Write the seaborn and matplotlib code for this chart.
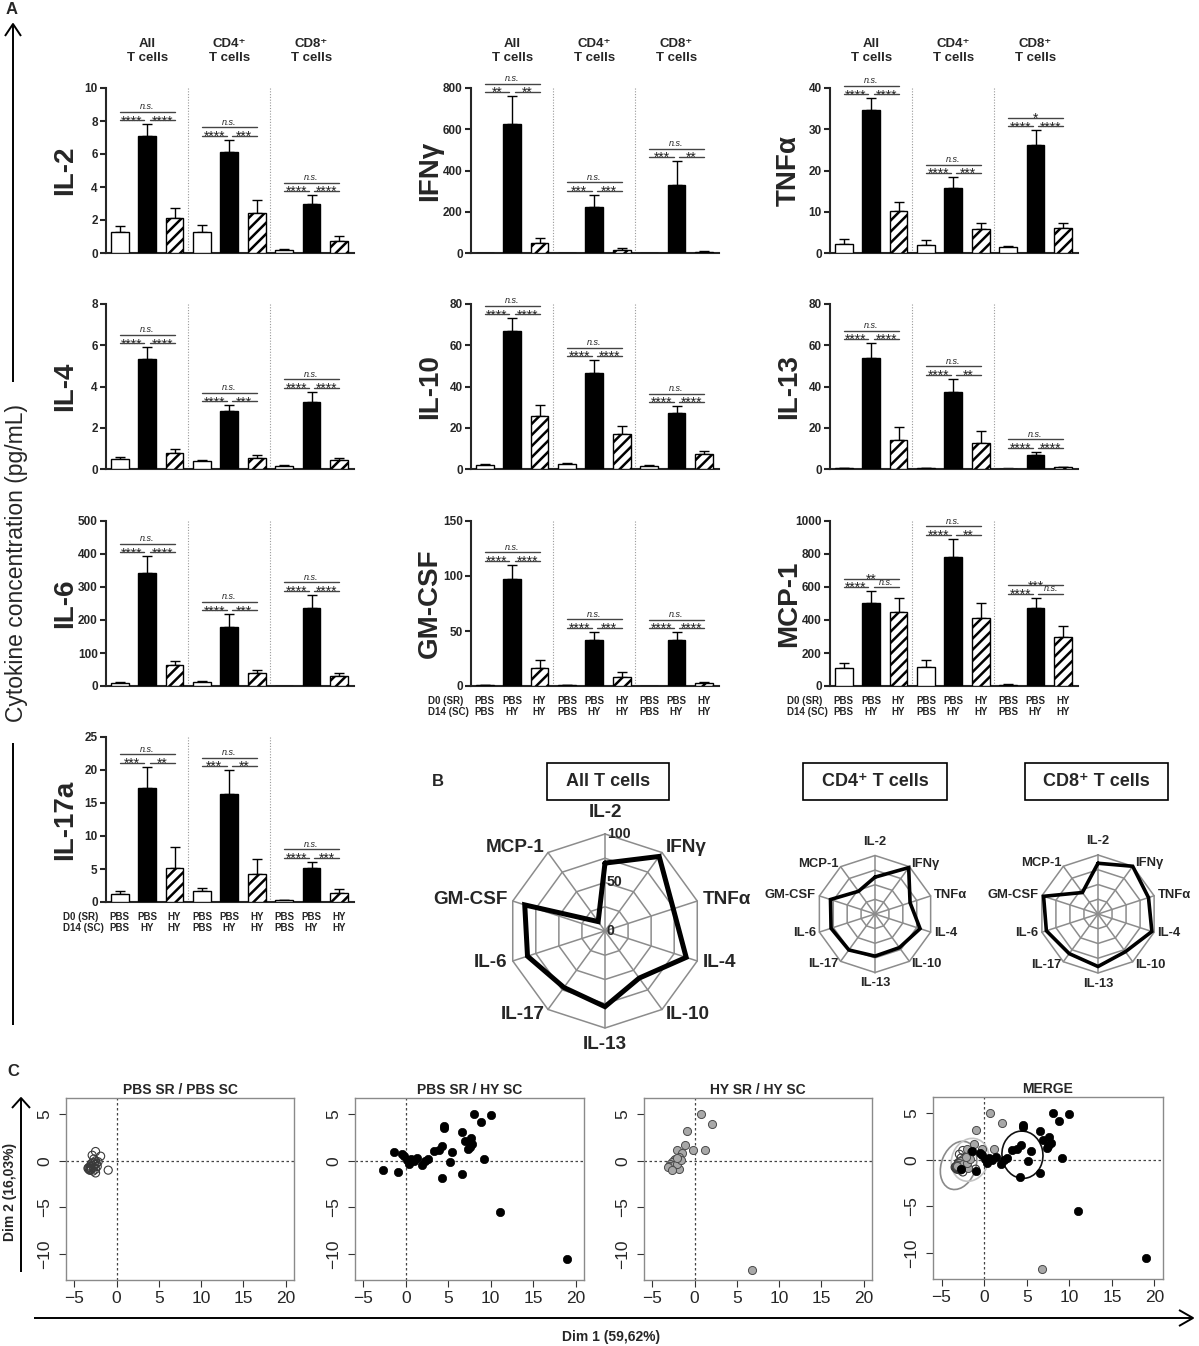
import numpy as np
import pandas as pd
import seaborn as sns
import matplotlib.pyplot as plt
from matplotlib.patches import Ellipse, Rectangle
from matplotlib import font_manager

# ---------------- data ----------------
bar_ids = ['all_pbs', 'all_pbshy', 'all_hy', 'cd4_pbs', 'cd4_pbshy', 'cd4_hy', 'cd8_pbs', 'cd8_pbshy', 'cd8_hy']
group_titles = ['All\nT cells', 'CD4\u207a\nT cells', 'CD8\u207a\nT cells']
bar_labels = ['PBS\nPBS', 'PBS\nHY', 'HY\nHY'] * 3

il2_mean = [1.3, 7.1, 2.15, 1.3, 6.15, 2.4, 0.2, 3.0, 0.75]
il2_err = [0.35, 0.7, 0.6, 0.4, 0.7, 0.8, 0.05, 0.5, 0.3]
il2_sig = [('****', '****', 'n.s.'), ('****', '***', 'n.s.'), ('****', '****', 'n.s.')]

ifng_mean = [0, 625, 47, 0, 225, 15, 0, 330, 5]
ifng_err = [0, 135, 25, 0, 58, 8, 0, 115, 3]
ifng_sig = [('**', '**', 'n.s.'), ('***', '***', 'n.s.'), ('***', '**', 'n.s.')]

tnfa_mean = [2.2, 34.6, 10.1, 2.0, 15.8, 5.7, 1.4, 26.3, 6.0]
tnfa_err = [1.1, 2.9, 2.2, 1.1, 2.6, 1.5, 0.4, 3.4, 1.2]
tnfa_sig = [('****', '****', 'n.s.'), ('****', '***', 'n.s.'), ('****', '****', '*')]

il4_mean = [0.5, 5.35, 0.8, 0.38, 2.8, 0.55, 0.15, 3.25, 0.45]
il4_err = [0.1, 0.55, 0.15, 0.08, 0.28, 0.12, 0.05, 0.5, 0.1]
il4_sig = [('****', '****', 'n.s.'), ('****', '***', 'n.s.'), ('****', '****', 'n.s.')]

il10_mean = [2.0, 67, 25.5, 2.3, 46.5, 16.8, 1.3, 27.2, 7.1]
il10_err = [0.5, 6, 5.5, 0.8, 6.3, 4, 0.5, 3.3, 1.8]
il10_sig = [('****', '****', 'n.s.'), ('****', '****', 'n.s.'), ('****', '****', 'n.s.')]

il13_mean = [0.4, 54, 14.2, 0.5, 37.3, 12.5, 0.2, 7.0, 0.8]
il13_err = [0.1, 7, 6.2, 0.2, 6.5, 5.7, 0.05, 1.3, 0.4]
il13_sig = [('****', '****', 'n.s.'), ('****', '**', 'n.s.'), ('****', '****', 'n.s.')]

il6_mean = [10, 343, 63, 12, 180, 40, 0, 236, 31]
il6_err = [3, 50, 12, 3, 37, 10, 0, 40, 8]
il6_sig = [('****', '****', 'n.s.'), ('****', '***', 'n.s.'), ('****', '****', 'n.s.')]

gmcsf_mean = [1, 97, 16.5, 0.5, 41.5, 8.5, 0.3, 41.5, 2.5]
gmcsf_err = [0.3, 13, 7, 0.2, 8, 4, 0.1, 7.5, 1]
gmcsf_sig = [('****', '****', 'n.s.'), ('****', '***', 'n.s.'), ('****', '****', 'n.s.')]

mcp1_mean = [108, 503, 451, 118, 782, 411, 7, 472, 297]
mcp1_err = [30, 72, 85, 42, 110, 93, 3, 62, 67]
mcp1_sig = [('****', 'n.s.', '**'), ('****', '**', 'n.s.'), ('****', 'n.s.', '***')]

il17_mean = [1.2, 17.3, 5.1, 1.6, 16.4, 4.2, 0.25, 5.1, 1.3]
il17_err = [0.5, 3.2, 3.2, 0.5, 3.6, 2.3, 0.1, 1.0, 0.6]
il17_sig = [('***', '**', 'n.s.'), ('***', '**', 'n.s.'), ('****', '***', 'n.s.')]

# radar (% of max), clockwise from top
radar_axes_labels = ['IL-2', 'IFN\u03b3', 'TNF\u03b1', 'IL-4', 'IL-10', 'IL-13', 'IL-17', 'IL-6', 'GM-CSF', 'MCP-1']
radar_all = [70, 95, 74, 88, 60, 78, 72, 84, 87, 12]
radar_cd4 = [63, 98, 63, 81, 71, 72, 76, 79, 80, 48]
radar_cd8 = [86, 100, 90, 96, 79, 89, 83, 92, 97, 45]
radar_titles = ['All T cells', 'CD4\u207a T cells', 'CD8\u207a T cells']

# PCA individuals
pbs_pbs_x = [-3.4, -3.3, -3.2, -3.1, -3.0, -2.9, -2.8, -2.7, -2.6, -2.5, -3.0, -2.8, -2.5, -2.9, -2.5, -1.9,
             -2.2, -1.0, -2.5, -2.3, -3.3, -2.7, -2.4, -3.1]
pbs_pbs_y = [-0.8, -0.7, -1.0, -0.6, -0.9, -0.5, -1.1, -0.7, -0.4, -0.9, -0.3, -0.2, 0.0, 0.6, 1.0, 0.5,
             -0.1, -1.0, -1.3, -0.6, -0.9, 0.2, -0.3, -1.0]
pbs_hy_x = [-2.7, -1.45, -0.9, -0.45, -0.2, 0.1, 0.35, 0.55, 0.9, 1.35, 1.95, 2.3, 2.65, 3.3, 3.85, 4.3, 4.2,
            4.55, 4.55, 5.15, 5.45, 6.6, 6.6, 6.95, 7.35, 7.5, 7.65, 7.85, 8.05, 8.8, 9.2, 10.0, 11.05, 19.0]
pbs_hy_y = [-0.95, 1.0, -1.2, 0.75, 0.5, 0.1, -0.3, 0.2, 0.0, 0.27, -0.4, -0.05, 0.25, 1.1, 1.2, 1.55, -1.85,
            3.7, 3.5, -0.15, 1.0, 3.15, -1.4, 2.1, 1.25, 1.5, 2.45, 1.85, 5.05, 4.2, 0.25, 4.95, -5.5, -10.5]
hy_hy_x = [0.7, 2.1, -0.9, -1.15, -0.2, 1.2, -2.05, -1.5, -1.8, -2.3, -2.5, -2.7, -2.95, -3.05, -2.8, -2.3,
           -1.9, -2.5, -2.05, -1.6, -3.2, -2.7, -2.15, 6.8]
hy_hy_y = [5.07, 3.96, 3.2, 1.7, 1.2, 1.15, 1.2, 0.8, 0.4, 0.25, 0.05, -0.1, -0.3, -0.55, -0.8, -0.7,
           -0.9, -0.45, -0.3, 0.05, -0.65, -1.0, 0.35, -11.7]
scatter_titles = ['PBS SR / PBS SC', 'PBS SR / HY SC', 'HY SR / HY SC', 'MERGE']

ell_cx = [-3.0, -1.65, 4.5]
ell_cy = [-0.6, 0.0, 0.55]
ell_w = [4.0, 4.2, 4.8]
ell_h = [5.4, 4.8, 5.1]
ell_angle = [-25, -35, 15]
ell_color = ['#8a8a8a', '#c4c4c4', '#111111']

# ---------------- style ----------------
sns.set_style('ticks')
plt.rcParams['font.family'] = ['Liberation Sans', 'DejaVu Sans']
plt.rcParams['hatch.linewidth'] = 1.8
plt.rcParams['axes.facecolor'] = 'none'

names = {f.name for f in font_manager.fontManager.ttflist}
NARROW = 'Liberation Sans Narrow' if 'Liberation Sans Narrow' in names else 'Liberation Sans'
nscale = 1.0 if NARROW == 'Liberation Sans Narrow' else 0.85

W, H = 1199, 1346
fig = plt.figure(figsize=(W / 100, H / 100), dpi=100)


def px_axes(x0, y0, x1, y1):
    return fig.add_axes([x0 / W, 1 - y1 / H, (x1 - x0) / W, (y1 - y0) / H])


def bar_panel(ax, name, mean, err, sig, ymax, step, header, xlab):
    df = pd.DataFrame({'bar': bar_ids, 'value': mean})
    sns.barplot(data=df, x='bar', y='value', order=bar_ids, color='black', saturation=1,
                width=0.65, edgecolor='black', linewidth=1.0, errorbar=None, ax=ax, zorder=3)
    for i, p in enumerate(ax.patches):
        k = i % 3
        if k == 0:
            p.set_facecolor('white')
        elif k == 2:
            p.set_facecolor('white')
            p.set_hatch('///')
    ax.errorbar(range(9), mean, yerr=[np.zeros(9), err], fmt='none', ecolor='black',
                elinewidth=1, capsize=3.5, capthick=1, zorder=2)
    ax.vlines([2.5, 5.5], 0, ymax, colors='#9a9a9a', linestyles=(0, (1, 1.5)), lw=0.8)
    ax.set_xlim(-0.5, 8.55)
    ax.set_ylim(0, ymax)
    ax.set_yticks(np.arange(0, ymax + step / 2, step))
    ax.set_yticklabels([f'{int(v)}' for v in np.arange(0, ymax + step / 2, step)],
                       fontsize=8.5, fontweight='bold')
    ax.set_xticks([])
    ax.set_xlabel('')
    ax.set_ylabel('')
    sns.despine(ax=ax)
    for s in ['left', 'bottom']:
        ax.spines[s].set_linewidth(1.5)
    ax.tick_params(axis='y', length=4, width=1.5, pad=2)

    u = ymax / 165.0
    tops = np.array(mean) + np.array(err)
    for g in range(3):
        p0, p1, p2 = 3 * g, 3 * g + 1, 3 * g + 2
        base = tops[p0:p2 + 1].max() + 4 * u
        hi = base + 8.5 * u
        segs = [((p0, p1 - 0.1), base, sig[g][0]), ((p1 + 0.1, p2), base, sig[g][1]),
                ((p0, p2), hi, sig[g][2])]
        for (xa, xb), yy, lab in segs:
            ax.plot([xa, xb], [yy, yy], color='#444', lw=1.0, clip_on=False, zorder=4)
            if lab == 'n.s.':
                ax.text((xa + xb) / 2, yy + 0.5 * u, lab, ha='center', va='bottom',
                        fontsize=6.5, style='italic', color='#222', clip_on=False)
            else:
                ax.text((xa + xb) / 2, yy - 5 * u, lab, ha='center', va='baseline',
                        fontsize=10, color='#222', clip_on=False)

    ax.annotate(name, xy=(0, 0.5), xycoords='axes fraction', xytext=(-41, 0),
                textcoords='offset pixels', rotation=90, ha='center', va='center',
                fontsize=20, fontweight='bold', annotation_clip=False)
    if header:
        for g in range(3):
            ax.annotate(group_titles[g], xy=(3 * g + 1, 1), xycoords=('data', 'axes fraction'),
                        xytext=(0, 37), textcoords='offset pixels', ha='center', va='center',
                        fontsize=9.5, fontweight='bold', linespacing=1.3, annotation_clip=False)
    if xlab:
        for i in range(9):
            ax.annotate(bar_labels[i], xy=(i, 0), xycoords=('data', 'axes fraction'),
                        xytext=(0, -10), textcoords='offset pixels', ha='center', va='top',
                        fontsize=7, fontweight='bold', linespacing=1.15, annotation_clip=False)
        ax.annotate('D0 (SR)\nD14 (SC)', xy=(0, 0), xycoords='axes fraction', xytext=(-43, -10),
                    textcoords='offset pixels', ha='left', va='top', fontsize=7,
                    fontweight='bold', linespacing=1.15, annotation_clip=False)


col_left = [106, 471, 830]
row_top = [88, 304, 521, 737]
panels = [
    ('IL-2', il2_mean, il2_err, il2_sig, 10, 2, 0, 0),
    ('IFN\u03b3', ifng_mean, ifng_err, ifng_sig, 800, 200, 1, 0),
    ('TNF\u03b1', tnfa_mean, tnfa_err, tnfa_sig, 40, 10, 2, 0),
    ('IL-4', il4_mean, il4_err, il4_sig, 8, 2, 0, 1),
    ('IL-10', il10_mean, il10_err, il10_sig, 80, 20, 1, 1),
    ('IL-13', il13_mean, il13_err, il13_sig, 80, 20, 2, 1),
    ('IL-6', il6_mean, il6_err, il6_sig, 500, 100, 0, 2),
    ('GM-CSF', gmcsf_mean, gmcsf_err, gmcsf_sig, 150, 50, 1, 2),
    ('MCP-1', mcp1_mean, mcp1_err, mcp1_sig, 1000, 200, 2, 2),
    ('IL-17a', il17_mean, il17_err, il17_sig, 25, 5, 0, 3),
]
for name, m, e, s, ymax, step, c, r in panels:
    ax = px_axes(col_left[c], row_top[r], col_left[c] + 248, row_top[r] + 165)
    bar_panel(ax, name, m, e, s, ymax, step, header=(r == 0),
              xlab=(r == 3 or (r == 2 and c > 0)))


# ---------------- radar charts ----------------
def radar(cx, cy, rpx, vals, fs, lw, scale_labels):
    half_w, half_h = 160 if scale_labels else 96, 140 if scale_labels else 86
    ax = px_axes(cx - half_w, cy - half_h, cx + half_w, cy + half_h)
    k = 100.0 / rpx
    ax.set_xlim(-half_w * k, half_w * k)
    ax.set_ylim(-half_h * k, half_h * k)
    ax.axis('off')
    n = len(vals)
    ang = np.pi / 2 - np.arange(n) * 2 * np.pi / n
    for ring in [25, 50, 75, 100]:
        xs = ring * np.cos(ang)
        ys = ring * np.sin(ang)
        ax.plot(np.r_[xs, xs[0]], np.r_[ys, ys[0]], color='#8c8c8c', lw=1.1)
    for a in ang:
        ax.plot([0, 100 * np.cos(a)], [0, 100 * np.sin(a)], color='#8c8c8c', lw=1.1)
    v = np.array(vals, dtype=float)
    px_, py_ = v * np.cos(ang), v * np.sin(ang)
    ax.plot(np.r_[px_, px_[0]], np.r_[py_, py_[0]], color='black', lw=lw,
            solid_joinstyle='miter', zorder=5)
    for lab, a in zip(radar_axes_labels, ang):
        c, s = np.cos(a), np.sin(a)
        if s > 0.95:
            x, y, ha, va = 0, 113, 'center', 'bottom'
        elif s < -0.95:
            x, y, ha, va = 0, -108, 'center', 'top'
        else:
            x, y = 106 * c, 106 * s
            ha = 'left' if c > 0 else 'right'
            va = 'center'
        ax.text(x, y, lab, ha=ha, va=va, fontsize=fs * nscale, fontweight='bold',
                family=[NARROW, 'DejaVu Sans'])
    if scale_labels:
        for val in [0, 50, 100]:
            ax.text(2, val, str(val), ha='left', va='center', fontsize=12 * nscale,
                    fontweight='bold', family=[NARROW, 'DejaVu Sans'], zorder=6)


radar(605, 931, 97, radar_all, 16, 3.6, True)
radar(875, 914, 58.5, radar_cd4, 11, 2.6, False)
radar(1098, 914, 59, radar_cd8, 11, 2.6, False)


# ---------------- PCA scatter ----------------
def pca_axes(box, title):
    ax = px_axes(*box)
    ax.set_xlim(-6.0, 21.0)
    ax.set_ylim(-12.8, 6.75)
    ax.axhline(0, ls=(0, (2, 2)), color='#444', lw=0.9, zorder=1)
    ax.axvline(0, ls=(0, (2, 2)), color='#444', lw=0.9, zorder=1)
    ax.set_xticks([-5, 0, 5, 10, 15, 20])
    ax.set_yticks([-10, -5, 0, 5])
    ax.tick_params(axis='both', labelsize=12.5, length=5, width=0.8, color='#333')
    ax.tick_params(axis='x', pad=3)
    ax.tick_params(axis='y', pad=5, labelrotation=90)
    for lab in ax.get_yticklabels():
        lab.set_va('center')
    for sp in ax.spines.values():
        sp.set_visible(True)
        sp.set_color('#8a8a8a')
        sp.set_linewidth(1.0)
    ax.set_title(title, fontsize=10, fontweight='bold', pad=3)
    ax.set_xlabel('')
    ax.set_ylabel('')
    return ax


def open_pts(ax):
    sns.scatterplot(x=pbs_pbs_x, y=pbs_pbs_y, ax=ax, s=34, color='white', edgecolor='#3a3a3a',
                    linewidth=0.8, legend=False, zorder=3)
    ax.collections[-1].set_facecolor('none')


def black_pts(ax):
    sns.scatterplot(x=pbs_hy_x, y=pbs_hy_y, ax=ax, s=36, color='black', edgecolor='black',
                    linewidth=0.5, legend=False, zorder=4)


def gray_pts(ax):
    sns.scatterplot(x=hy_hy_x, y=hy_hy_y, ax=ax, s=34, color='#a8a8a8', edgecolor='#4a4a4a',
                    linewidth=0.7, legend=False, zorder=3)


boxes = [(66, 1098, 294, 1280), (355, 1098, 584, 1280), (644, 1098, 872, 1280), (933, 1097, 1163, 1279)]
a1 = pca_axes(boxes[0], scatter_titles[0])
open_pts(a1)
a2 = pca_axes(boxes[1], scatter_titles[1])
black_pts(a2)
a3 = pca_axes(boxes[2], scatter_titles[2])
gray_pts(a3)
a4 = pca_axes(boxes[3], scatter_titles[3])
for i in range(3):
    a4.add_patch(Ellipse((ell_cx[i], ell_cy[i]), ell_w[i], ell_h[i], angle=ell_angle[i],
                         fill=False, edgecolor=ell_color[i], lw=1.2, zorder=2))
open_pts(a4)
gray_pts(a4)
black_pts(a4)

# ---------------- overlay: arrows, panel letters, boxes ----------------
ov = fig.add_axes([0, 0, 1, 1])
ov.set_xlim(0, W)
ov.set_ylim(H, 0)
ov.axis('off')
k = dict(color='black', lw=1.4, solid_capstyle='butt')
ov.plot([13, 13], [24, 382], **k)
ov.plot([13, 13], [743, 1025], **k)
ov.plot([5, 13, 21], [36, 24, 36], **k)
ov.text(17, 563, 'Cytokine concentration (pg/mL)', rotation=90, ha='center', va='center',
        fontsize=16.5)
ov.plot([21, 21], [1272, 1098], **k)
ov.plot([12, 21, 30], [1108, 1098, 1108], **k)
ov.text(10, 1192, 'Dim 2 (16,03%)', rotation=90, ha='center', va='center', fontsize=10,
        fontweight='bold')
ov.plot([34, 1193], [1318, 1318], **k)
ov.plot([1179, 1193, 1179], [1310, 1318, 1326], **k)
ov.text(611, 1337, 'Dim 1 (59,62%)', ha='center', va='center', fontsize=10, fontweight='bold')

ov.text(12, 10, 'A', ha='center', va='center', fontsize=12, fontweight='bold')
ov.text(438, 782, 'B', ha='center', va='center', fontsize=12, fontweight='bold')
ov.text(13, 1071, 'C', ha='center', va='center', fontsize=12, fontweight='bold')

title_boxes = [(547, 763, 122, 37), (803, 763, 144, 37), (1025, 763, 143, 37)]
for (bx, by, bw, bh), t in zip(title_boxes, radar_titles):
    ov.add_patch(Rectangle((bx, by), bw, bh, fill=False, edgecolor='black', lw=1.2))
    ov.text(bx + bw / 2, by + bh / 2, t, ha='center', va='center', fontsize=13, fontweight='bold')

fig.savefig('out.png', dpi=100)
